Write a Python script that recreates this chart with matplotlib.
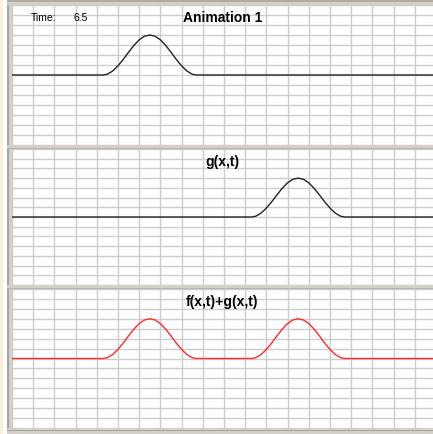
import numpy as np
import matplotlib
matplotlib.use('Agg')
import matplotlib.pyplot as plt
from matplotlib.patches import Rectangle

plt.rcParams['font.family'] = ['Liberation Sans', 'DejaVu Sans']

# values
time = 6.5
x_min, x_max = 0.0, 19.86
f_center = 6.5      # f(x,t) pulse moves right
g_center = 13.5     # g(x,t) pulse moves left
# shape of one pulse (offset from centre, height)
pulse_dx = [-2.2, -2.0, -1.75, -1.5, -1.25, -1.0, -0.75, -0.5, -0.25, 0.0,
            0.25, 0.5, 0.75, 1.0, 1.25, 1.5, 1.75, 2.0, 2.2]
pulse_y = [0.0, 0.02, 0.10, 0.23, 0.39, 0.57, 0.74, 0.88, 0.97, 1.00,
           0.97, 0.88, 0.74, 0.57, 0.39, 0.23, 0.10, 0.02, 0.0]

titles = ['Animation 1', 'g(x,t)', 'f(x,t)+g(x,t)']


def pulse_curve(center):
    xs = [x_min] + [center + d for d in pulse_dx] + [x_max]
    ys = [0.0] + list(pulse_y) + [0.0]
    return np.array(xs), np.array(ys)


fx, fy = pulse_curve(f_center)
gx, gy = pulse_curve(g_center)
# sum: pulses do not overlap, so join both
sx = np.concatenate([fx[:-1], gx[1:]])
sy = np.concatenate([fy[:-1], gy[1:]])

W, H = 433, 434
fig = plt.figure(figsize=(W / 100., H / 100.), dpi=100)
fig.patch.set_facecolor('white')

# frame decoration drawn in pixel space
bg = fig.add_axes([0, 0, 1, 1])
bg.set_xlim(0, W)
bg.set_ylim(H, 0)
bg.axis('off')
bg.add_patch(Rectangle((0, 0), 3, H, color='#fcefdc', lw=0))
bg.add_patch(Rectangle((7, 0), 5, H, color='#d4d0c8', lw=0))
bg.add_patch(Rectangle((7, 0), 1.5, H, color='#a8a49c', lw=0))
bg.add_patch(Rectangle((7, 0), W, 5, color='#d4d0c8', lw=0))
bg.add_patch(Rectangle((7, 0), W, 1.5, color='#b0aca4', lw=0))
for top in [145, 285]:
    bg.add_patch(Rectangle((7, top), W, 4, color='#d4d0c8', lw=0))
    bg.add_patch(Rectangle((7, top + 2.5), W, 1, color='#b8b4ac', lw=0))
bg.add_patch(Rectangle((7, 428), W, 6, color='#d4d0c8', lw=0))
bg.add_patch(Rectangle((7, 430), W, 1, color='#a8a49c', lw=0))

# panel boxes (left, top, right, bottom, baseline) in pixels
panels = [(12, 5, 433, 145, 76.7), (12, 149, 433, 285, 218.0), (12, 289, 433, 428, 359.0)]
unit = 42.4  # pixels per unit amplitude
curves = [(fx, fy, '#222222'), (gx, gy, '#222222'), (sx, sy, '#ff2a2a')]

for (l, t, r, b, base), (cx, cy, col), title in zip(panels, curves, titles):
    ax = fig.add_axes([l / W, 1 - b / H, (r - l) / W, (b - t) / H])
    ax.set_xlim(x_min, x_max)
    ax.set_ylim(-(b - base) / unit, (base - t) / unit)
    ax.set_xticks(np.arange(0, 20, 1))
    ax.set_yticks(np.arange(-1.75, 1.8, 0.25))
    ax.grid(True, color='#cccccc', lw=1.0)
    ax.tick_params(length=0, labelbottom=False, labelleft=False)
    for s in ax.spines.values():
        s.set_visible(False)
    ax.plot(cx, cy, color=col, lw=1.0, zorder=3)
    ax.text(0.5, 1 - 13. / (b - t), title, transform=ax.transAxes, ha='center',
            va='center', fontsize=10, fontweight='bold')
    if title == 'Animation 1':
        ax.text((31 - l) / (r - l), 1 - 13. / (b - t), 'Time:', transform=ax.transAxes,
                ha='left', va='center', fontsize=7.5)
        ax.text((73 - l) / (r - l), 1 - 13. / (b - t), '%.1f' % time, transform=ax.transAxes,
                ha='left', va='center', fontsize=7.5)

plt.savefig('out.png', dpi=100)
